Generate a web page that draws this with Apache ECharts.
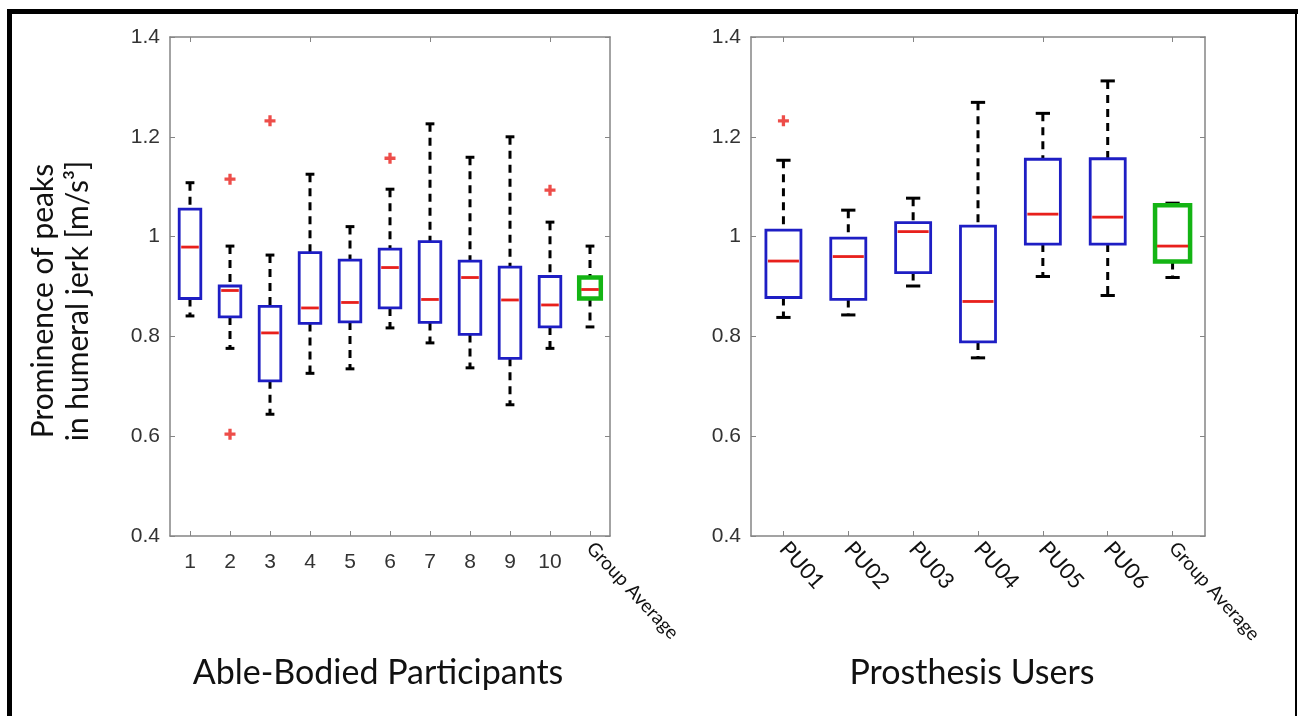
<!DOCTYPE html>
<html>
<head>
<meta charset="utf-8">
<title>Prominence of peaks in humeral jerk</title>
<script src="https://cdn.jsdelivr.net/npm/echarts@6/dist/echarts.min.js"></script>
<style>
  html, body { margin: 0; padding: 0; background: #fff; }
  #chart { width: 1298px; height: 716px; }
</style>
</head>
<body>
<div id="chart"></div>
<script>
// able-bodied participants (left panel)
const abCategories = ['1', '2', '3', '4', '5', '6', '7', '8', '9', '10', 'Group Average'];
const abLow    = [0.841, 0.776, 0.644, 0.726, 0.735, 0.817, 0.787, 0.737, 0.663, 0.776, 0.819];
const abQ1     = [0.876, 0.839, 0.711, 0.826, 0.829, 0.857, 0.828, 0.804, 0.756, 0.819, 0.876];
const abMedian = [0.979, 0.892, 0.807, 0.857, 0.868, 0.938, 0.874, 0.918, 0.873, 0.863, 0.894];
const abQ3     = [1.055, 0.901, 0.860, 0.968, 0.953, 0.975, 0.990, 0.951, 0.939, 0.920, 0.918];
const abHigh   = [1.108, 0.981, 0.963, 1.125, 1.020, 1.095, 1.226, 1.159, 1.200, 1.029, 0.981];
const abOutliers = [[1, 1.115], [1, 0.604], [2, 1.232], [5, 1.157], [9, 1.093]];

// prosthesis users (right panel)
const puCategories = ['PU01', 'PU02', 'PU03', 'PU04', 'PU05', 'PU06', 'Group Average'];
const puLow    = [0.838, 0.843, 0.901, 0.757, 0.920, 0.882, 0.918];
const puQ1     = [0.878, 0.874, 0.928, 0.789, 0.985, 0.985, 0.950];
const puMedian = [0.951, 0.960, 1.010, 0.870, 1.045, 1.039, 0.981];
const puQ3     = [1.013, 0.997, 1.028, 1.021, 1.155, 1.156, 1.063];
const puHigh   = [1.153, 1.053, 1.077, 1.269, 1.247, 1.312, 1.067];
const puOutliers = [[0, 1.232]];

const yTicks = { min: 0.4, max: 1.4, interval: 0.2 };

const BLUE = '#1e1ec4', GREEN = '#14b414', RED = '#e8201c', AXIS = '#858585';
const tickFont = { fontFamily: 'Liberation Sans, Arial', fontSize: 21, color: '#333' };
const labelFont = { fontFamily: 'Lato, Open Sans', color: '#111' };
const PLUS = 'path://M3.5,0H6.5V3.5H10V6.5H6.5V10H3.5V6.5H0V3.5H3.5Z';

function toRows(cats, lo, q1, med, q3, hi) {
  return cats.map((c, i) => [i, lo[i], q1[i], med[i], q3[i], hi[i], c === 'Group Average' ? 1 : 0]);
}

// draw one matlab-style box: dashed whiskers, caps, box, red median
function renderBox(params, api) {
  const x = api.value(0);
  const lo = api.coord([x, api.value(1)]);
  const q1 = api.coord([x, api.value(2)]);
  const md = api.coord([x, api.value(3)]);
  const q3 = api.coord([x, api.value(4)]);
  const hi = api.coord([x, api.value(5)]);
  const band = api.size([1, 0])[0];
  const bw = band * 0.54, cw = band * 0.22;
  const group = api.value(6) === 1;
  const cx = lo[0];
  const dash = { stroke: '#000', lineWidth: 3, lineDash: [8, 6] };
  const cap = { stroke: '#000', lineWidth: 3 };
  return {
    type: 'group',
    children: [
      { type: 'line', shape: { x1: cx, y1: hi[1], x2: cx, y2: q3[1] }, style: dash },
      { type: 'line', shape: { x1: cx, y1: q1[1], x2: cx, y2: lo[1] }, style: dash },
      { type: 'line', shape: { x1: cx - cw / 2, y1: hi[1], x2: cx + cw / 2, y2: hi[1] }, style: cap },
      { type: 'line', shape: { x1: cx - cw / 2, y1: lo[1], x2: cx + cw / 2, y2: lo[1] }, style: cap },
      { type: 'rect', shape: { x: cx - bw / 2, y: q3[1], width: bw, height: q1[1] - q3[1] },
        style: { fill: '#fff', stroke: group ? GREEN : BLUE, lineWidth: group ? 4.5 : 2.8 } },
      { type: 'line', shape: { x1: cx - bw / 2 + 2, y1: md[1], x2: cx + bw / 2 - 2, y2: md[1] },
        style: { stroke: RED, lineWidth: 2.8 } }
    ]
  };
}

function yAxes(grid) {
  const base = Object.assign({ type: 'value', gridIndex: grid, splitLine: { show: false } }, yTicks);
  return [
    Object.assign({}, base, {
      position: 'left',
      axisLine: { show: true, lineStyle: { color: AXIS, width: 1.5 } },
      axisTick: { show: true, inside: true, length: 5, lineStyle: { color: AXIS } },
      axisLabel: Object.assign({ margin: 10 }, tickFont)
    }),
    Object.assign({}, base, {
      position: 'right',
      axisLine: { show: true, lineStyle: { color: AXIS, width: 1.5 } },
      axisTick: { show: true, inside: true, length: 5, lineStyle: { color: AXIS } },
      axisLabel: { show: false }
    })
  ];
}

function topAxis(grid, cats) {
  return {
    type: 'category', gridIndex: grid, position: 'top', data: cats,
    axisLine: { show: true, lineStyle: { color: AXIS, width: 1.5 } },
    axisTick: { show: true, inside: true, length: 5, alignWithLabel: true, lineStyle: { color: AXIS } },
    axisLabel: { show: false }
  };
}

const chart = echarts.init(document.getElementById('chart'));

chart.setOption({
  backgroundColor: '#fff',
  animation: false,
  grid: [
    { left: 170, width: 440, top: 37, height: 499 },
    { left: 751, width: 454, top: 37, height: 499 }
  ],
  xAxis: [
    { // 0: left numbers
      type: 'category', gridIndex: 0, position: 'bottom', data: abCategories,
      axisLine: { show: true, lineStyle: { color: AXIS, width: 1.5 } },
      axisTick: { show: true, inside: true, length: 5, alignWithLabel: true, lineStyle: { color: AXIS } },
      axisLabel: Object.assign({ interval: 0, margin: 16,
        formatter: v => v === 'Group Average' ? '' : v }, tickFont)
    },
    { // 1: left rotated "Group Average"
      type: 'category', gridIndex: 0, position: 'bottom', data: abCategories,
      axisLine: { show: false }, axisTick: { show: false },
      axisLabel: Object.assign({ interval: 0, margin: 9, rotate: -47, fontSize: 19,
        formatter: v => v === 'Group Average' ? v : '' }, labelFont)
    },
    topAxis(0, abCategories),
    { // 3: right names
      type: 'category', gridIndex: 1, position: 'bottom', data: puCategories,
      axisLine: { show: true, lineStyle: { color: AXIS, width: 1.5 } },
      axisTick: { show: true, inside: true, length: 5, alignWithLabel: true, lineStyle: { color: AXIS } },
      axisLabel: Object.assign({ interval: 0, margin: 9, rotate: -48, fontSize: 22 }, labelFont, {
        rich: { ga: { fontSize: 19, fontFamily: 'Lato, Open Sans', color: '#111' } },
        formatter: v => v === 'Group Average' ? '{ga|' + v + '}' : v })
    },
    topAxis(1, puCategories)
  ],
  yAxis: yAxes(0).concat(yAxes(1)),
  series: [
    {
      type: 'custom', xAxisIndex: 0, yAxisIndex: 0,
      data: toRows(abCategories, abLow, abQ1, abMedian, abQ3, abHigh),
      encode: { x: 0, y: [1, 2, 3, 4, 5] },
      renderItem: renderBox, z: 3
    },
    {
      type: 'scatter', xAxisIndex: 0, yAxisIndex: 0, data: abOutliers,
      symbol: PLUS, symbolSize: 11, itemStyle: { color: RED }, z: 4
    },
    {
      type: 'custom', xAxisIndex: 3, yAxisIndex: 2,
      data: toRows(puCategories, puLow, puQ1, puMedian, puQ3, puHigh),
      encode: { x: 0, y: [1, 2, 3, 4, 5] },
      renderItem: renderBox, z: 3
    },
    {
      type: 'scatter', xAxisIndex: 3, yAxisIndex: 2, data: puOutliers,
      symbol: PLUS, symbolSize: 11, itemStyle: { color: RED }, z: 4
    }
  ],
  graphic: [
    // picture frame
    { type: 'rect', shape: { x: 7, y: 9, width: 1291, height: 5 }, style: { fill: '#000' } },
    { type: 'rect', shape: { x: 7, y: 9, width: 5, height: 707 }, style: { fill: '#000' } },
    { type: 'rect', shape: { x: 1295, y: 9, width: 2, height: 707 }, style: { fill: '#000' } },
    {
      type: 'text', x: 61, y: 301, rotation: Math.PI / 2,
      style: { text: 'Prominence of peaks\nin humeral jerk [m/s³]', fontFamily: 'Lato, Open Sans',
        fontSize: 30, lineHeight: 35, fill: '#111', align: 'center', verticalAlign: 'middle' }
    },
    {
      type: 'text', x: 378, y: 673,
      style: { text: 'Able-Bodied Participants', fontFamily: 'Lato, Open Sans', fontSize: 34,
        fill: '#111', align: 'center', verticalAlign: 'middle' }
    },
    {
      type: 'text', x: 972, y: 673,
      style: { text: 'Prosthesis Users', fontFamily: 'Lato, Open Sans', fontSize: 34,
        fill: '#111', align: 'center', verticalAlign: 'middle' }
    }
  ]
});
</script>
</body>
</html>
